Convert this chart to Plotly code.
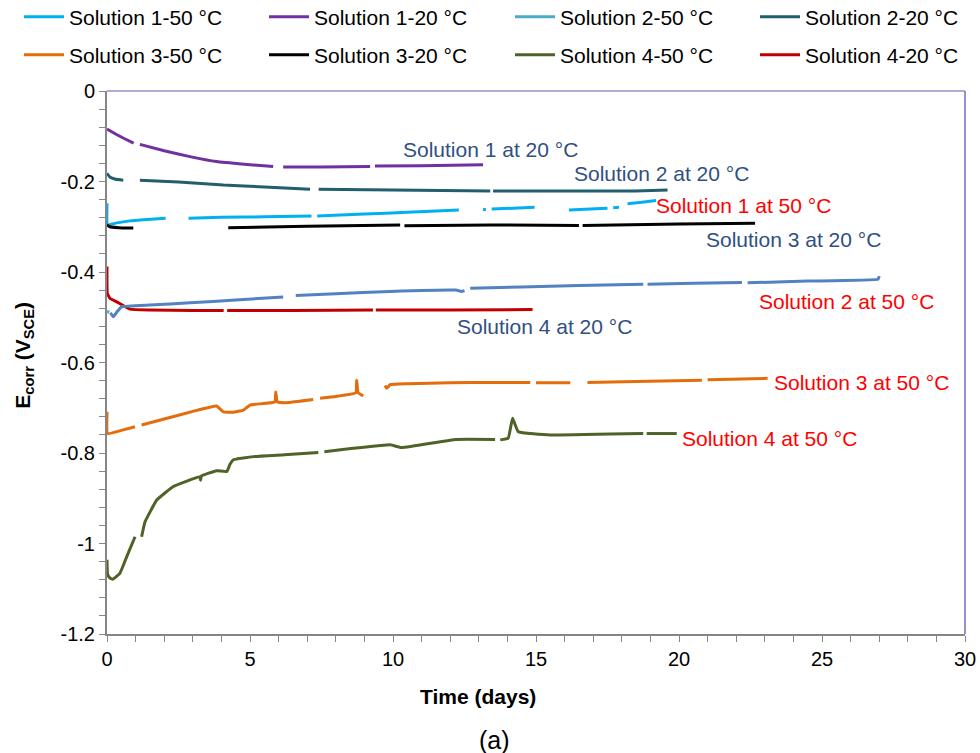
import plotly.graph_objects as go

# ---- data: open-circuit corrosion potential vs. immersion time ----
# None marks a break in the logged record
s1_50_days = [0, 0.02, 0.3, 0.8, 1.4, 2.05, None, 2.85, 4.0, 5.5, 7.15, None, 7.35, 9.0, 10.5, 12.3,
              None, 13.15, 13.25, None, 13.45, 14.2, 14.95, None, 16.15, 16.9, 17.5, None, 17.7, 17.9,
              None, 18.2, 18.7, 19.2]
s1_50_e = [-0.248, -0.296, -0.292, -0.287, -0.284, -0.281, None, -0.281, -0.279, -0.278, -0.276, None,
           -0.276, -0.272, -0.268, -0.263, None, -0.262, -0.262, None, -0.261, -0.259, -0.257, None,
           -0.263, -0.261, -0.259, None, -0.258, -0.257, None, -0.249, -0.246, -0.242]

s1_20_days = [0, 0.3, 0.6, 0.93, None, 1.15, 2.0, 2.9, 3.83, 4.8, 5.81, None, 6.16, 7.5, 9.2, None,
              9.37, 11.0, 13.15]
s1_20_e = [-0.084, -0.095, -0.105, -0.115, None, -0.118, -0.132, -0.145, -0.156, -0.162, -0.167, None,
           -0.168, -0.168, -0.167, None, -0.166, -0.165, -0.163]

s2_50_start_days = [0, 0.08]
s2_50_start_e = [-0.487, -0.489]
s2_50_days = [0.12, 0.22, 0.35, 0.51, 1.5, 2.9, 4.5, 6.16, None, 6.6, 8.0, 9.9, 12.2, 12.4, 12.5, None,
              12.7, 14.5, 16.5, 18.75, None, 18.9, 20.5, 22.2, None, 22.4, 24.5, 26.96, 27.0]
s2_50_e = [-0.490, -0.499, -0.488, -0.477, -0.473, -0.468, -0.462, -0.455, None, -0.452, -0.448, -0.443,
           -0.440, -0.443, -0.441, None, -0.436, -0.433, -0.430, -0.427, None, -0.427, -0.425, -0.423,
           None, -0.424, -0.420, -0.416, -0.409]

s2_20_days = [0, 0.1, 0.3, 0.57, None, 1.15, 2.5, 4.07, 5.5, 7.1, None, 7.4, 10.0, 13.4, None, 13.5,
              16.0, 18.5, 19.6]
s2_20_e = [-0.182, -0.190, -0.195, -0.197, None, -0.197, -0.201, -0.208, -0.212, -0.217, None, -0.217,
           -0.219, -0.221, None, -0.221, -0.221, -0.221, -0.219]

s3_50_days = [0, 0.02, 0.5, 0.98, None, 1.21, 2.0, 3.0, 3.83, 4.07, 4.4, 4.77, 5.0, 5.87, 5.9, 5.95, 6.28,
              7.21, None, 7.45, 8.0, 8.70, 8.73, 8.78, 8.96, None, 9.72, 9.78, 9.9, 10.5, 12.0, 13.4, 14.8,
              None, 15.0, 16.2, None, 16.8, 18.5, 20.8, None, 21.0, 23.1]
s3_50_e = [-0.709, -0.757, -0.750, -0.742, None, -0.738, -0.725, -0.708, -0.696, -0.709, -0.710, -0.705,
           -0.694, -0.687, -0.665, -0.687, -0.689, -0.682, None, -0.679, -0.675, -0.667, -0.639, -0.667,
           -0.674, None, -0.651, -0.657, -0.649, -0.647, -0.645, -0.644, -0.644, None, -0.645, -0.645,
           None, -0.644, -0.642, -0.639, None, -0.638, -0.635]

s3_20_days = [0, 0.1, 0.4, 0.92, None, 4.24, 7.0, 10.25, None, 10.4, 13.4, 16.5, None, 16.63, 20.0, 22.66]
s3_20_e = [-0.296, -0.300, -0.302, -0.303, None, -0.302, -0.299, -0.296, None, -0.298, -0.296, -0.297,
           None, -0.297, -0.294, -0.292]

s4_50_days = [0, 0.02, 0.1, 0.2, 0.45, 0.69, 0.98, None, 1.21, 1.33, 1.74, 2.32, 2.8, 3.25, 3.27, 3.3,
              3.83, 4.19, 4.3, 4.42, 5.12, 6.2, 7.39, None, 7.6, 9.9, 10.3, 12.2, 13.57, None, 13.75,
              14.03, 14.18, 14.38, 15.5, 18.75, None, 18.87, 19.92]
s4_50_e = [-1.036, -1.068, -1.076, -1.079, -1.066, -1.029, -0.985, None, -0.985, -0.952, -0.904, -0.874,
           -0.862, -0.852, -0.860, -0.851, -0.839, -0.841, -0.825, -0.815, -0.808, -0.804, -0.799, None,
           -0.797, -0.782, -0.788, -0.770, -0.770, None, -0.771, -0.767, -0.723, -0.753, -0.760, -0.757,
           None, -0.757, -0.757]

s4_20_days = [0, 0.01, 0.1, 0.34, 0.8, 1.5, 3.0, 4.08, None, 4.2, 6.5, 9.3, None, 9.4, 12.0, 14.88]
s4_20_e = [-0.388, -0.447, -0.458, -0.466, -0.482, -0.484, -0.485, -0.485, None, -0.485, -0.485, -0.484,
           None, -0.484, -0.484, -0.483]

x_ticks = [0, 5, 10, 15, 20, 25, 30]
y_ticks = [0, -0.2, -0.4, -0.6, -0.8, -1.0, -1.2]
y_tick_text = ["0", "-0.2", "-0.4", "-0.6", "-0.8", "-1", "-1.2"]

# curve labels: text, colour, left edge (days), centre (V)
curve_labels = [
    ("Solution 1 at 20 °C", "#2F5081", 10.29, -0.130),
    ("Solution 2 at 20 °C", "#2F5081", 16.25, -0.182),
    ("Solution 1 at 50 °C", "#FF0000", 19.13, -0.254),
    ("Solution 3 at 20 °C", "#2F5081", 20.87, -0.328),
    ("Solution 2 at 50 °C", "#FF0000", 22.72, -0.466),
    ("Solution 4 at 20 °C", "#2F5081", 12.17, -0.521),
    ("Solution 3 at 50 °C", "#FF0000", 23.24, -0.644),
    ("Solution 4 at 50 °C", "#FF0000", 20.03, -0.769),
]

FONT = "Liberation Sans, Arial, sans-serif"
LW = 3

# legend grid: 4 columns x 2 rows, positions in container pixels
W, H = 980, 753
legend_cols = [19, 264, 510, 755]
legend_rows = [17, 55]

fig = go.Figure()
layout_legends = {}


def add(name, x, y, color, slot=None):
    kw = dict(showlegend=False)
    if slot is not None:
        key = "legend" if slot == 0 else f"legend{slot + 1}"
        kw = dict(showlegend=True, legend=key)
        col, row = slot % 4, slot // 4
        layout_legends[key] = dict(
            orientation="h", xref="container", yref="container",
            x=legend_cols[col] / W, y=1 - legend_rows[row] / H,
            xanchor="left", yanchor="middle", itemwidth=40,
            font=dict(family=FONT, size=21, color="#000000"),
            bgcolor="rgba(0,0,0,0)")
    fig.add_trace(go.Scatter(
        x=x, y=y, name=name, mode="lines", connectgaps=False,
        line=dict(color=color, width=LW, shape="spline", smoothing=0.3),
        hoverinfo="skip", **kw))


add("Solution 1-50 °C", s1_50_days, s1_50_e, "#00B0F0", 0)
add("Solution 1-20 °C", s1_20_days, s1_20_e, "#7030A0", 1)
add("Solution 2-50 °C", s2_50_start_days, s2_50_start_e, "#4BACC6", 2)
add("Solution 2-20 °C", s2_20_days, s2_20_e, "#215E6E", 3)
add("Solution 3-50 °C", s3_50_days, s3_50_e, "#E46C0A", 4)
add("Solution 3-20 °C", s3_20_days, s3_20_e, "#000000", 5)
add("Solution 4-50 °C", s4_50_days, s4_50_e, "#4F6228", 6)
add("Solution 4-20 °C", s4_20_days, s4_20_e, "#C00000", 7)
# main record of the Solution 2 / 50 °C run
add("Solution 2-50 °C", s2_50_days, s2_50_e, "#5282C0")

for text, color, x0, y0 in curve_labels:
    fig.add_annotation(x=x0, y=y0, xref="x", yref="y", text=text, showarrow=False,
                       xanchor="left", yanchor="middle",
                       font=dict(family=FONT, size=21, color=color))

# axis titles and panel tag
fig.add_annotation(x=0.4324, y=-0.116, xref="paper", yref="paper", text="<b>Time (days)</b>",
                   showarrow=False, xanchor="center", yanchor="middle",
                   font=dict(family=FONT, size=21, color="#000000"))
fig.add_annotation(x=-0.097, y=0.514, xref="paper", yref="paper",
                   text="<b>E<sub>corr</sub> (V<sub>SCE</sub>)</b>", textangle=-90,
                   showarrow=False, xanchor="center", yanchor="middle",
                   font=dict(family=FONT, size=21, color="#000000"))
fig.add_annotation(x=0.4516, y=-0.195, xref="paper", yref="paper", text="(a)",
                   showarrow=False, xanchor="center", yanchor="middle",
                   font=dict(family=FONT, size=25, color="#000000"))

# plot-area frame on the top and right sides
frame = "#9C8DC8"
fig.add_shape(type="line", xref="paper", yref="paper", x0=0, x1=1, y0=1, y1=1,
              line=dict(color=frame, width=1.5), layer="below")
fig.add_shape(type="line", xref="paper", yref="paper", x0=1, x1=1, y0=0, y1=1,
              line=dict(color=frame, width=2), layer="below")

axis_color = "#868686"
fig.update_xaxes(range=[0, 30], tickvals=x_ticks, showgrid=False, zeroline=False,
                 showline=True, linecolor=axis_color, linewidth=2,
                 ticks="outside", ticklen=6, tickwidth=1, tickcolor=axis_color,
                 minor=dict(dtick=1, ticks="outside", ticklen=6, tickcolor=axis_color),
                 tickfont=dict(family=FONT, size=20, color="#000000"))
fig.update_yaxes(range=[-1.2, 0], tickvals=y_ticks, ticktext=y_tick_text, showgrid=False,
                 zeroline=False, showline=True, linecolor=axis_color, linewidth=2,
                 ticks="outside", ticklen=6, tickwidth=1, tickcolor=axis_color,
                 minor=dict(dtick=0.04, tick0=0, ticks="outside", ticklen=6, tickcolor=axis_color),
                 tickfont=dict(family=FONT, size=20, color="#000000"))

fig.update_layout(
    width=W, height=H,
    margin=dict(l=107, r=15, t=91, b=119, autoexpand=False),
    paper_bgcolor="white", plot_bgcolor="white",
    font=dict(family=FONT),
    **layout_legends,
)

fig.write_html("out.html")
